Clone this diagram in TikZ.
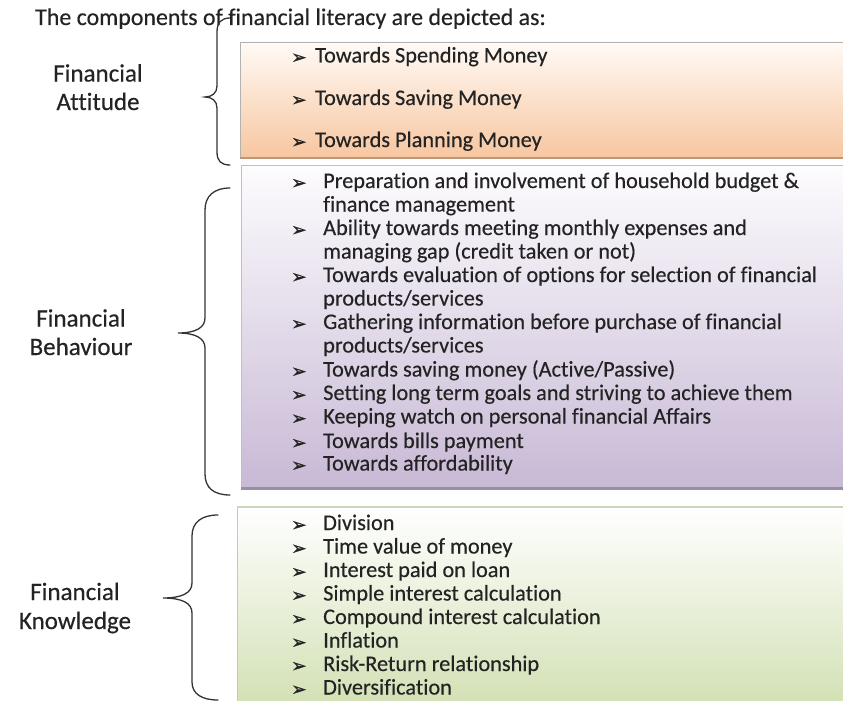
\documentclass[tikz,border=0pt]{standalone}
\usepackage{fontspec}
\setmainfont{Carlito}[Ligatures=NoCommon, FakeBold=0.35, BoldFont={Carlito}, BoldFeatures={FakeBold=1}]
\newfontfamily\symfont{DejaVu Sans}[FakeBold=1]
\definecolor{txt}{HTML}{232323}
\definecolor{bracec}{HTML}{333333}
\definecolor{attTop}{HTML}{FFFAF5}
\definecolor{attBot}{HTML}{F7C6A0}
\definecolor{behTop}{HTML}{FDFCFE}
\definecolor{behBot}{HTML}{C8B9D5}
\definecolor{knoTop}{HTML}{FFFFFF}
\definecolor{knoBot}{HTML}{D3E1B5}
\begin{document}
\begin{tikzpicture}[x=1pt,y=-1pt,
  item/.style={anchor=base west, inner sep=0pt, font=\fontsize{22.3}{26}\selectfont, text=txt},
  bul/.style={anchor=base west, inner sep=0pt, font=\symfont\fontsize{18.5}{22}\selectfont, text=txt},
  lab/.style={anchor=base, inner sep=0pt, font=\fontsize{25}{28}\selectfont, text=txt},
  panel/.style={anchor=north west, inner sep=0pt, outer sep=0pt, draw=none},
  bracepath/.style={draw=bracec, line width=1.3pt, line cap=round}]
\useasboundingbox (0,0) rectangle (843,701);
\fill[white] (0,0) rectangle (843,701);

% panels
\node[panel, top color=attTop, bottom color=attBot, minimum width=603pt, minimum height=116pt] (att) at (240,42) {};
\draw[gray!60, line width=0.8pt] (att.south west) -- (att.north west) -- (att.north east);
\draw[draw={rgb,255:red,190;green,150;blue,120}, line width=2pt] (att.south west) -- (att.south east);

\node[panel, top color=behTop, bottom color=behBot, minimum width=602pt, minimum height=323pt] (beh) at (241,165) {};
\draw[gray!50, line width=0.8pt] (beh.south west) -- (beh.north west) -- (beh.north east);
\draw[draw={rgb,255:red,150;green,145;blue,160}, line width=3pt] (beh.south west) -- (beh.south east);

\node[panel, top color=knoTop, bottom color=knoBot, minimum width=606pt, minimum height=196pt] (kno) at (237,507) {};
\draw[gray!45, line width=0.8pt] (kno.south west) -- (kno.north west);
\draw[draw={rgb,255:red,200;green,215;blue,185}, line width=1.5pt] (kno.north west) -- (kno.north east);

% header
\node[anchor=base west, inner sep=0pt, font=\fontsize{23.9}{28}\selectfont, text=txt] (head) at (35,25) {The components of financial literacy are depicted as:};

% labels
\node[lab] (l1a) at (98,81.5) {Financial};
\node[lab] (l1b) at (98,110) {Attitude};
\node[lab] (l2a) at (81,326.5) {Financial};
\node[lab] (l2b) at (81,355) {Behaviour};
\node[lab] (l3a) at (75,600) {Financial};
\node[lab] (l3b) at (75,629) {Knowledge};

% attitude items
\node[bul] (ab1) at (291,63.5) {➢};
\node[item] (a1) at (315,62.5) {Towards Spending Money};
\node[bul] (ab2) at (291,106) {➢};
\node[item] (a2) at (315,105) {Towards Saving Money};
\node[bul] (ab3) at (291,148) {➢};
\node[item] (a3) at (315,147) {Towards Planning Money};

% behaviour items
\node[bul] (bb1) at (291,189) {➢};
\node[item] (b1) at (323,188) {Preparation and involvement of household budget \&};
\node[item] (b2) at (323,211.5) {finance management};
\node[bul] (bb3) at (291,236) {➢};
\node[item] (b3) at (323,235) {Ability towards meeting monthly expenses and};
\node[item] (b4) at (323,258.5) {managing gap (credit taken or not)};
\node[bul] (bb5) at (291,283) {➢};
\node[item] (b5) at (323,282) {Towards evaluation of options for selection of financial};
\node[item] (b6) at (323,305.5) {products/services};
\node[bul] (bb7) at (291,330) {➢};
\node[item] (b7) at (323,329) {Gathering information before purchase of financial};
\node[item] (b8) at (323,352.5) {products/services};
\node[bul] (bb9) at (291,377.5) {➢};
\node[item] (b9) at (323,376.5) {Towards saving money (Active/Passive)};
\node[bul] (bb10) at (291,401) {➢};
\node[item] (b10) at (323,400) {Setting long term goals and striving to achieve them};
\node[bul] (bb11) at (291,424.5) {➢};
\node[item] (b11) at (323,423.5) {Keeping watch on personal financial Affairs};
\node[bul] (bb12) at (291,449) {➢};
\node[item] (b12) at (323,448) {Towards bills payment};
\node[bul] (bb13) at (291,471.5) {➢};
\node[item] (b13) at (323,470.5) {Towards affordability};

% knowledge items
\foreach \t [count=\i from 0] in {Division,Time value of money,Interest paid on loan,Simple interest calculation,Compound interest calculation,Inflation,Risk-Return relationship,Diversification}{
  \node[bul] (kb\i) at (291,531+23.5*\i) {➢};
  \node[item] (k\i) at (323,530+23.5*\i) {\t};
}

% braces
\draw[bracepath] (230,18) .. controls (221,18) and (217,23) .. (217,32) -- (217,86)
   .. controls (217,93) and (212,97) .. (205,97)
   .. controls (212,97) and (217,101) .. (217,108) -- (217,152)
   .. controls (217,161) and (221,165) .. (230,165);
\draw[bracepath] (230,188) .. controls (214,188) and (205,196) .. (205,210) -- (205,318)
   .. controls (205,328) and (195,333) .. (178,333)
   .. controls (195,333) and (205,338) .. (205,348) -- (205,474)
   .. controls (205,488) and (214,495) .. (230,495);
\draw[bracepath] (218,515) .. controls (202,515) and (192,522) .. (192,536) -- (192,583)
   .. controls (192,593) and (182,598) .. (163,598)
   .. controls (182,598) and (192,603) .. (192,613) -- (192,682)
   .. controls (192,694) and (202,700) .. (218,700);
\end{tikzpicture}
\end{document}
